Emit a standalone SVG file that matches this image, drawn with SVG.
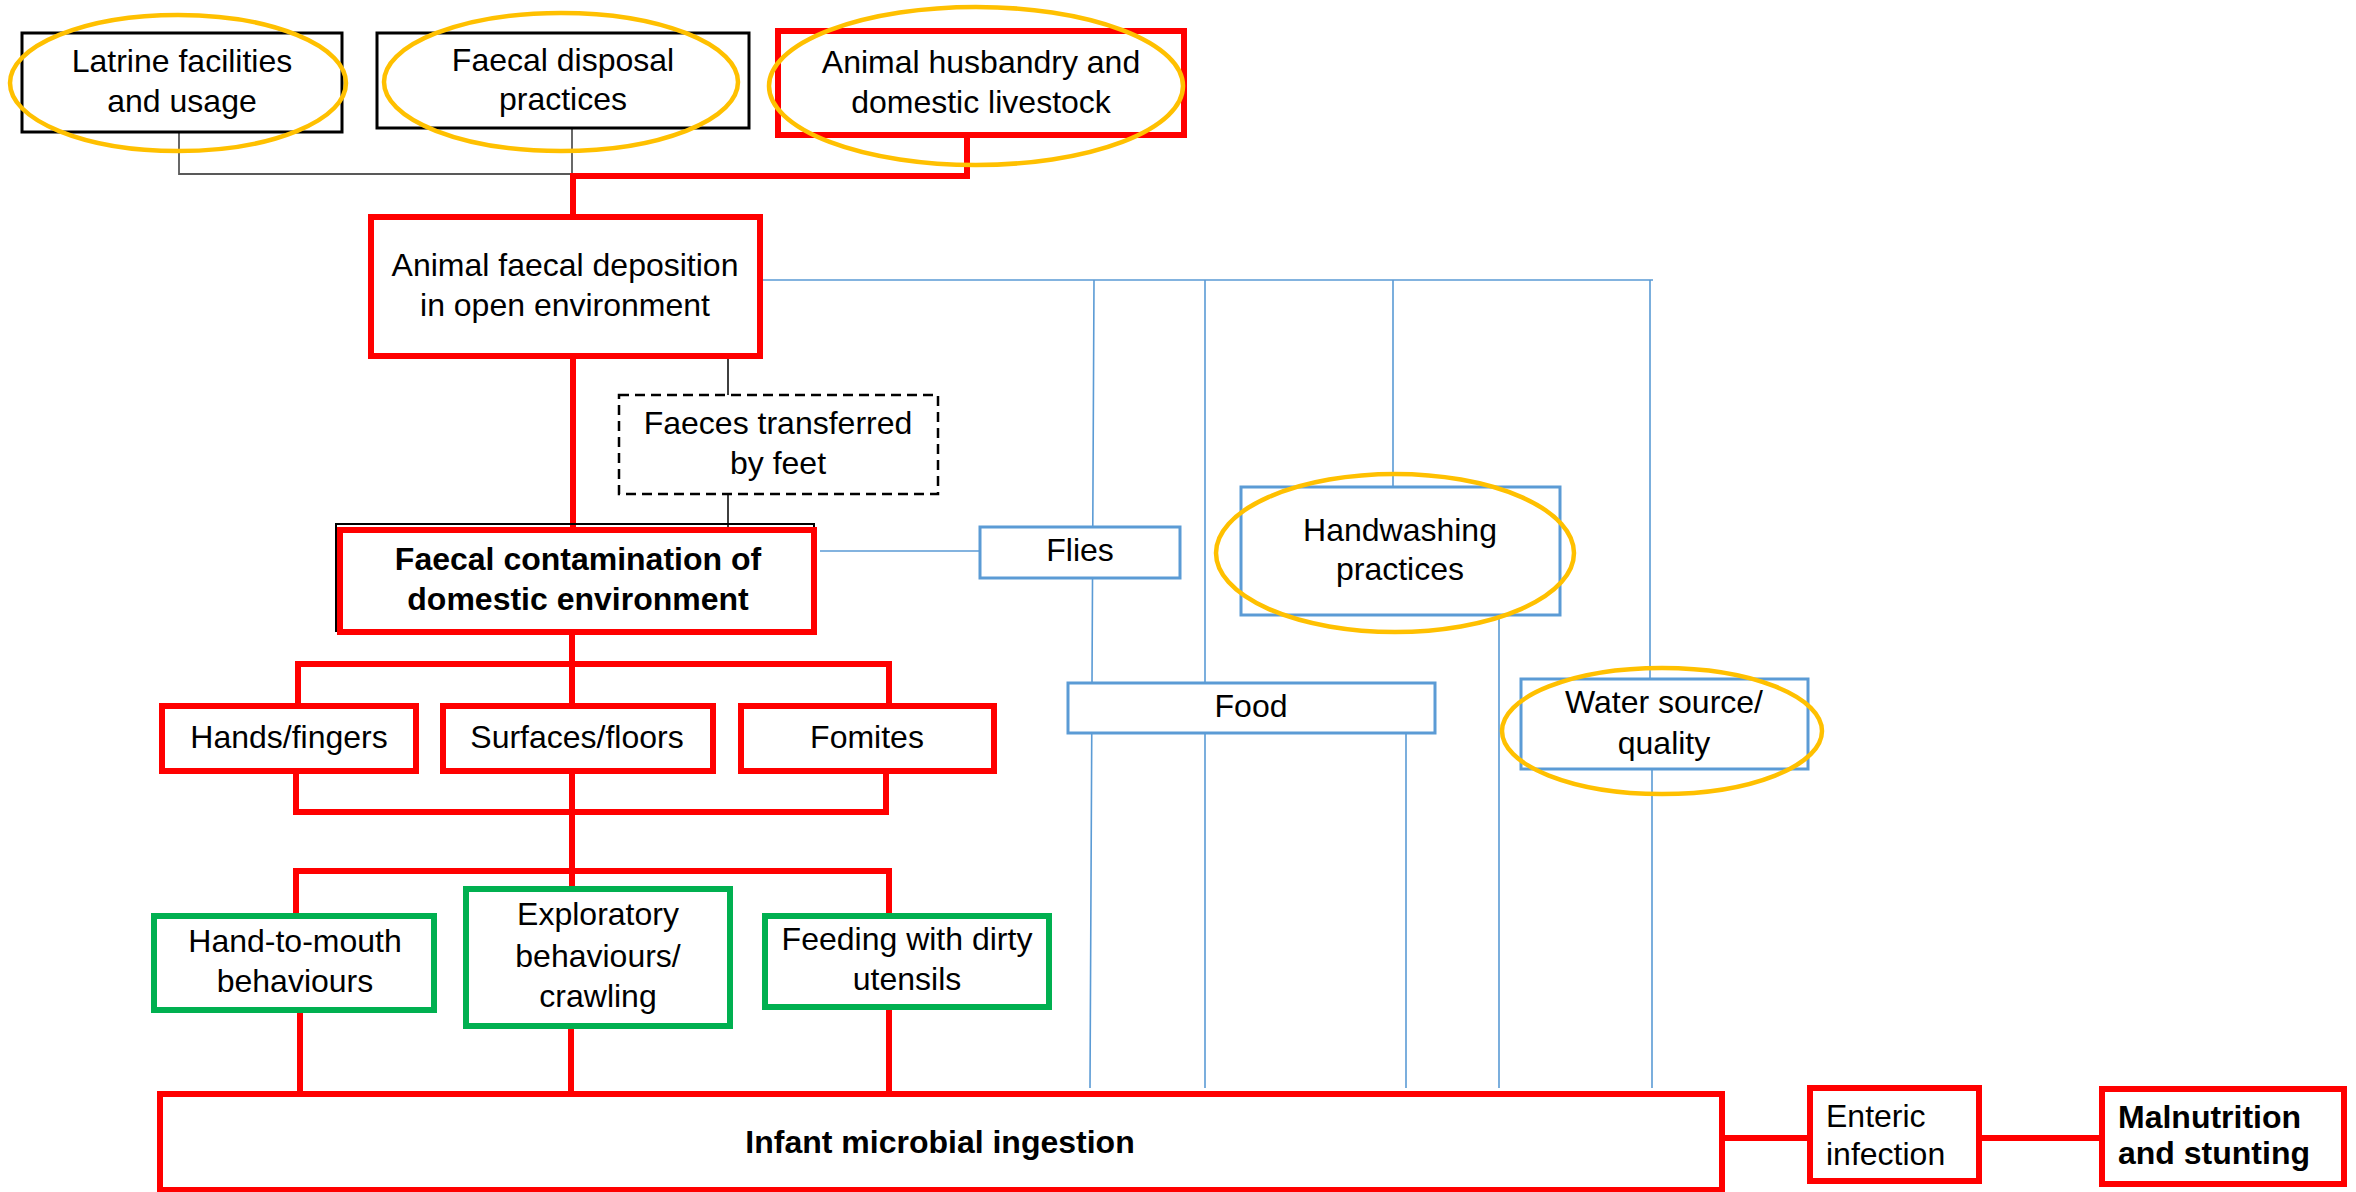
<svg xmlns="http://www.w3.org/2000/svg" width="2356" height="1192" viewBox="0 0 2356 1192">
<style>
text{font-family:"Liberation Sans",Arial,sans-serif;font-size:32px;fill:#000;text-anchor:middle}
.b{font-weight:bold}
.l{text-anchor:start}
.blk{fill:#fff;stroke:#000;stroke-width:3}
.red{fill:#fff;stroke:#FF0000;stroke-width:6}
.grn{fill:#fff;stroke:#00B050;stroke-width:6}
.blu{fill:#fff;stroke:#5B9BD5;stroke-width:3}
.dsh{fill:#fff;stroke:#000;stroke-width:2.5;stroke-dasharray:10 6}
.ell{fill:none;stroke:#FFC000;stroke-width:4.5}
.cg{fill:none;stroke:#595959;stroke-width:1.8}
.ck{fill:none;stroke:#000;stroke-width:1.5}
.cr{fill:none;stroke:#FF0000;stroke-width:6}
.cb{fill:none;stroke:#5B9BD5;stroke-width:1.6}
</style>
<rect width="2356" height="1192" fill="#fff"/>
<g id="connectors">
<path class="cg" d="M179,132V174H572M572,128V174"/>
<path class="cr" d="M573,327V176H967V138"/>
<path class="ck" d="M728,359V395M728,494V527"/>
<path class="cr" d="M573,359V527"/>
<path class="cb" d="M763,280H1653M1094,280L1090,1088M1205,280V1088M1393,280V487M1650,280V679M1499,615V1088M1406,733V1088M1652,769V1088M820,551H980"/>
<path class="cr" d="M572,635V703M298,703V664H889V703"/>
<path class="cr" d="M296,774V812H886V774M572,774V886M296,913V871H889V913"/>
<path class="cr" d="M300,1013V1091M571,1029V1091M889,1010V1091"/>
<path class="cr" d="M1725,1138H1807M1982,1138H2100"/>
</g>
<g id="latrine">
<rect class="blk" x="22" y="33" width="320" height="99"/>
<text x="182" y="72">Latrine facilities</text><text x="182" y="112">and usage</text>
<ellipse class="ell" cx="178" cy="83" rx="168" ry="68"/>
</g>
<g id="faecal-disposal">
<rect class="blk" x="377" y="33" width="372" height="95"/>
<text x="563" y="71">Faecal disposal</text><text x="563" y="110">practices</text>
<ellipse class="ell" cx="561" cy="82" rx="177" ry="69"/>
</g>
<g id="animal-husbandry">
<rect class="red" x="778" y="31" width="406" height="104"/>
<text x="981" y="73">Animal husbandry and</text><text x="981" y="113">domestic livestock</text>
<ellipse class="ell" cx="976" cy="86" rx="207" ry="79"/>
</g>
<g id="animal-faecal-deposition">
<rect class="red" x="371" y="217" width="389" height="139"/>
<text x="565" y="276">Animal faecal deposition</text><text x="565" y="316">in open environment</text>
</g>
<g id="faeces-feet">
<rect class="dsh" x="619" y="395" width="319" height="99"/>
<text x="778" y="434">Faeces transferred</text><text x="778" y="474">by feet</text>
</g>
<g id="faecal-contamination">
<rect fill="none" stroke="#000" stroke-width="2" x="336" y="524" width="478" height="107"/>
<rect class="red" x="340" y="530" width="474" height="102"/>
<text class="b" x="578" y="570">Faecal contamination of</text><text class="b" x="578" y="610">domestic environment</text>
</g>
<g id="flies">
<rect class="blu" x="980" y="527" width="200" height="51"/>
<text x="1080" y="561">Flies</text>
</g>
<g id="handwashing">
<rect class="blu" x="1241" y="487" width="319" height="128"/>
<text x="1400" y="541">Handwashing</text><text x="1400" y="580">practices</text>
<ellipse class="ell" cx="1395" cy="553" rx="179" ry="79"/>
</g>
<g id="food">
<rect class="blu" x="1068" y="683" width="367" height="50"/>
<text x="1251" y="717">Food</text>
</g>
<g id="water">
<rect class="blu" x="1521" y="679" width="287" height="90"/>
<text x="1664" y="713">Water source/</text><text x="1664" y="754">quality</text>
<ellipse class="ell" cx="1662" cy="731" rx="160" ry="63"/>
</g>
<g id="hands">
<rect class="red" x="162" y="706" width="254" height="65"/>
<text x="289" y="748">Hands/fingers</text>
</g>
<g id="surfaces">
<rect class="red" x="443" y="706" width="270" height="65"/>
<text x="577" y="748">Surfaces/floors</text>
</g>
<g id="fomites">
<rect class="red" x="741" y="706" width="253" height="65"/>
<text x="867" y="748">Fomites</text>
</g>
<g id="hand-to-mouth">
<rect class="grn" x="154" y="916" width="280" height="94"/>
<text x="295" y="952">Hand-to-mouth</text><text x="295" y="992">behaviours</text>
</g>
<g id="exploratory">
<rect class="grn" x="466" y="889" width="264" height="137"/>
<text x="598" y="925">Exploratory</text><text x="598" y="967">behaviours/</text><text x="598" y="1007">crawling</text>
</g>
<g id="feeding">
<rect class="grn" x="765" y="916" width="284" height="91"/>
<text x="907" y="950">Feeding with dirty</text><text x="907" y="990">utensils</text>
</g>
<g id="infant-ingestion">
<rect class="red" x="160" y="1094" width="1562" height="96"/>
<text class="b" x="940" y="1153">Infant microbial ingestion</text>
</g>
<g id="enteric">
<rect class="red" x="1810" y="1088" width="169" height="93"/>
<text class="l" x="1826" y="1127">Enteric</text><text class="l" x="1826" y="1165">infection</text>
</g>
<g id="malnutrition">
<rect class="red" x="2102" y="1089" width="242" height="95"/>
<text class="b l" x="2118" y="1128">Malnutrition</text><text class="b l" x="2118" y="1164">and stunting</text>
</g>
</svg>
